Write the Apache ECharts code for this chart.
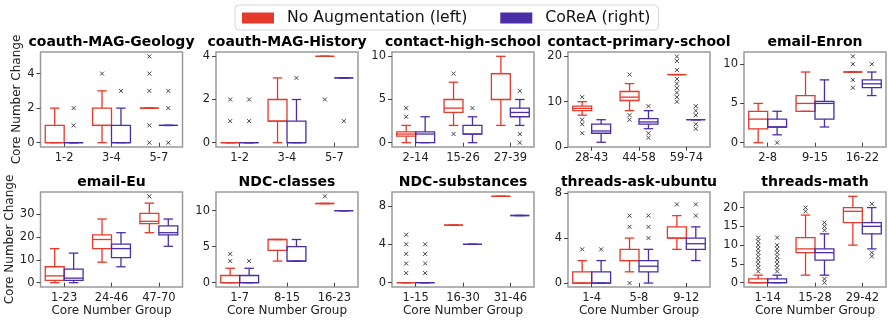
<!DOCTYPE html>
<html><head><meta charset="utf-8">
<script src="https://cdn.jsdelivr.net/npm/echarts@6/dist/echarts.min.js"></script>
<style>html,body{margin:0;padding:0;background:#fff}#c{width:888px;height:324px}</style>
</head><body><div id="c"></div>
<script>
const titles = ['coauth-MAG-Geology','coauth-MAG-History','contact-high-school','contact-primary-school','email-Enron','email-Eu','NDC-classes','NDC-substances','threads-ask-ubuntu','threads-math'];
const categories = [
  ['1-2','3-4','5-7'], ['1-2','3-4','5-7'], ['2-14','15-26','27-39'], ['28-43','44-58','59-74'], ['2-8','9-15','16-22'],
  ['1-23','24-46','47-70'], ['1-7','8-15','16-23'], ['1-15','16-30','31-46'], ['1-4','5-8','9-12'], ['1-14','15-28','29-42']
];
// [min, q1, median, q3, max] per group
const noAugBoxes = [
  [[0,0,0,1,2],[0,1,1,2,3],[2,2,2,2,2]],
  [[0,0,0,0,0],[0,1,1,2,3],[4,4,4,4,4]],
  [[0,0.75,1,1.25,2],[2,3.5,4,5,7],[2,5,8,8,10]],
  [[7,8,8.5,9,10],[8,10.25,11,12.25,14],[16,16,16,16,16]],
  [[0,1.75,3,4,5],[4,4,5,6,9],[9,9,9,9,9]],
  [[0,1,3,7,15],[9,15,19,21,28],[22,26,27,30.5,35]],
  [[0,0,0,1,2],[3,4.5,6,6,6],[11,11,11,11,11]],
  [[0,0,0,0,0],[6,6,6,6,6],[9,9,9,9,9]],
  [[0,0,0,1,2],[1,2,2,3,4],[3,4,4,5,6]],
  [[0,0,0,1,2],[2,8,9,12,18],[10,16,19,20,23]]
];
const coreaBoxes = [
  [[0,0,0,0,0],[0,0,0,1,2],[1,1,1,1,1]],
  [[0,0,0,0,0],[0,0,0,1,2],[3,3,3,3,3]],
  [[0,0,1,1.25,3],[0,1,1,2,3],[2,3,3.5,4,5]],
  [[1,3,3.5,5,6],[4,5,5.5,6.25,8],[6,6,6,6,6]],
  [[1,2,2,3,4],[2,3,5,5.25,8],[6,7,7.5,8,9]],
  [[0,1,2,6,13],[7,11,15,17,22],[16,21,22,25,28]],
  [[0,0,0,1,2],[3,3,3,5,6],[10,10,10,10,10]],
  [[0,0,0,0,0],[4,4,4,4,4],[7,7,7,7,7]],
  [[0,0,0,1,2],[0,1,1.5,2,3],[2,3,3.5,4,5]],
  [[0,0,0,1,2],[2,6,8,9,13],[9,13,15,16,20]]
];
const noAugOutliers = [
  [[],[4],[5,4,3,1,0]],
  [[1,2],[],[2]],
  [[3,4],[8,1],[]],
  [[11,6,5,3],[16,7,6],[20,19,17,15,14,13,12,11,10]],
  [[],[],[11,10,8,7]],
  [[],[],[38]],
  [[3,4],[],[12]],
  [[1,2,3,4,5],[],[]],
  [[3],[6,5,0],[7]],
  [[3,4,5,6,7,8,9,10,11,12],[19,20],[]]
];
const coreaOutliers = [
  [[1,2],[3],[3,2,0]],
  [[1,2],[3],[1]],
  [[],[4],[6,1,0]],
  [[],[9,3,2],[9,8,7,5,4]],
  [[0],[],[10]],
  [[],[],[]],
  [[3],[],[]],
  [[1,2,3,4],[],[]],
  [[3],[6,5,4],[7,6]],
  [[3,4,5,6,7,8,9,10,12],[14,15,16,0,1],[21,7,8]]
];
const yRanges = [[-0.25,5.25],[-0.2,4.2],[-0.5,10.5],[-0.05,21],[-0.55,11.55],[-1.9,39.9],[-0.6,12.6],[-0.45,9.45],[-0.35,8.1],[-1.15,24.15]];
const yTicks = [[0,2,4],[0,2,4],[0,5,10],[0,10,20],[0,5,10],[0,10,20,30],[0,5,10],[0,4,8],[0,4,8],[0,5,10,15,20]];
const seriesNames = ['No Augmentation (left)','CoReA (right)'];

const RED = '#e4392b', BLUE = '#4a2ea8';
const FONT = 'DejaVu Sans';
const lefts = [40.5, 216, 392, 568, 744], tops = [52, 192], W = 142, H = 95;

function boxRender(side, color) {
  return function (params, api) {
    const c = api.value(0);
    const band = api.size([1, 0])[0];
    const cx = api.coord([c, 0])[0] + side * band * 0.2;
    const hw = band * 0.2, cw = hw / 2;
    const y = i => api.coord([c, api.value(i)])[1];
    const yMin = y(1), yQ1 = y(2), yMed = y(3), yQ3 = y(4), yMax = y(5);
    const st = { stroke: color, lineWidth: 1.3, fill: null };
    return { type: 'group', children: [
      { type: 'polygon', shape: { points: [[cx-hw,yQ1],[cx+hw,yQ1],[cx+hw,yQ3],[cx-hw,yQ3]] }, style: st },
      { type: 'line', shape: { x1: cx, y1: yQ1, x2: cx, y2: yMin }, style: st },
      { type: 'line', shape: { x1: cx, y1: yQ3, x2: cx, y2: yMax }, style: st },
      { type: 'line', shape: { x1: cx-cw, y1: yMin, x2: cx+cw, y2: yMin }, style: st },
      { type: 'line', shape: { x1: cx-cw, y1: yMax, x2: cx+cw, y2: yMax }, style: st },
      { type: 'line', shape: { x1: cx-hw, y1: yMed, x2: cx+hw, y2: yMed }, style: st }
    ]};
  };
}
function outlierRender(side) {
  return function (params, api) {
    const c = api.value(0);
    const band = api.size([1, 0])[0];
    const p = api.coord([c, api.value(1)]);
    const x = p[0] + side * band * 0.2, yy = p[1], s = 2;
    const st = { stroke: '#444', lineWidth: 1 };
    return { type: 'group', children: [
      { type: 'line', shape: { x1: x-s, y1: yy-s, x2: x+s, y2: yy+s }, style: st },
      { type: 'line', shape: { x1: x-s, y1: yy+s, x2: x+s, y2: yy-s }, style: st }
    ]};
  };
}

const grid = [], xAxis = [], yAxis = [], series = [], title = [];
const labelStyle = { fontFamily: FONT, fontSize: 11.5, color: '#222' };
for (let p = 0; p < 10; p++) {
  const r = Math.floor(p / 5), c = p % 5;
  grid.push({ left: lefts[c], top: tops[r], width: W, height: H, show: true, borderColor: '#9a9a9a', borderWidth: 1.5,
    backgroundColor: 'transparent', containLabel: false, outerBoundsMode: 'none' });
  title.push({ text: titles[p], left: lefts[c] + W / 2, top: tops[r] - 17, textAlign: 'center', padding: 0,
    textStyle: { fontFamily: FONT, fontSize: 14, fontWeight: 'bold', color: '#000' } });
  xAxis.push({ type: 'category', gridIndex: p, data: categories[p], boundaryGap: true,
    axisLine: { show: false }, splitLine: { show: false },
    axisTick: { show: true, alignWithLabel: true, length: 4, lineStyle: { color: '#444' } },
    axisLabel: Object.assign({ margin: 5, interval: 0 }, labelStyle),
    name: r === 1 ? 'Core Number Group' : '', nameLocation: 'middle', nameGap: 18,
    nameTextStyle: { fontFamily: FONT, fontSize: 12, color: '#222' } });
  yAxis.push({ type: 'value', gridIndex: p, min: yRanges[p][0], max: yRanges[p][1],
    axisLine: { show: false }, splitLine: { show: false },
    axisTick: { show: true, length: 4, customValues: yTicks[p], lineStyle: { color: '#444' } },
    axisLabel: Object.assign({ margin: 6, customValues: yTicks[p] }, labelStyle),
    name: c === 0 ? 'Core Number Change' : '', nameLocation: 'middle', nameGap: 18,
    nameTextStyle: { fontFamily: FONT, fontSize: 12, color: '#222' } });
  [[noAugBoxes, -1, RED, 0, noAugOutliers], [coreaBoxes, 1, BLUE, 1, coreaOutliers]].forEach(([boxes, side, color, si, outs]) => {
    series.push({ type: 'custom', name: seriesNames[si], xAxisIndex: p, yAxisIndex: p,
      itemStyle: { color: color }, renderItem: boxRender(side, color),
      encode: { x: 0, y: [1, 2, 3, 4, 5] },
      data: boxes[p].map((b, i) => [i].concat(b)), z: 3 });
    const od = [];
    outs[p].forEach((arr, i) => arr.forEach(v => od.push([i, v])));
    series.push({ type: 'custom', name: 'outliers' + si, xAxisIndex: p, yAxisIndex: p,
      renderItem: outlierRender(side), encode: { x: 0, y: 1 }, data: od, z: 4 });
  });
}

const chart = echarts.init(document.getElementById('c'), null, { renderer: 'canvas' });
chart.setOption({
  animation: false,
  backgroundColor: '#fff',
  title: title,
  legend: { data: seriesNames, left: 235, top: 5, padding: [5, 8, 4, 7], icon: 'rect', itemWidth: 32, itemHeight: 11,
    itemGap: 33, borderColor: '#d6d6d6', borderWidth: 1, borderRadius: 4, selectedMode: false,
    textStyle: { fontFamily: FONT, fontSize: 15.7, color: '#111', padding: [0, 0, 0, 8] } },
  grid: grid, xAxis: xAxis, yAxis: yAxis, series: series
});
</script></body></html>
